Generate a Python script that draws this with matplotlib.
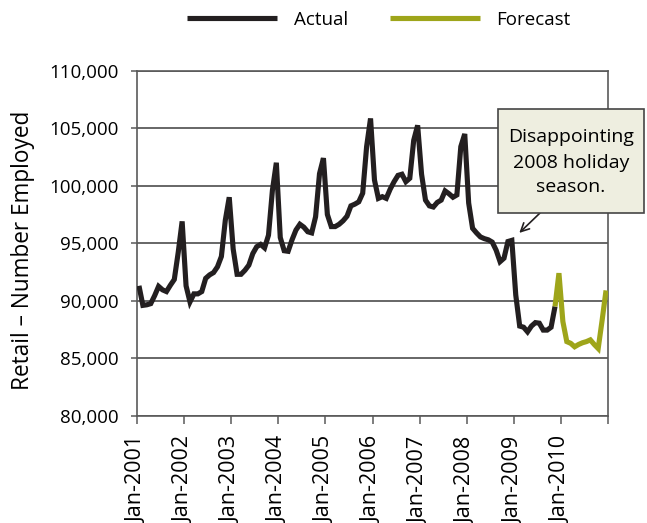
import matplotlib
matplotlib.use("Agg")
import matplotlib.pyplot as plt
from matplotlib.ticker import FuncFormatter, FixedLocator
from matplotlib.patches import Rectangle
import numpy as np

plt.rcParams['font.family'] = ['Open Sans', 'DejaVu Sans']

# Monthly retail employment, Jan-2001 .. Nov-2009 (actual)
actual_values = [
    91300, 89600, 89650, 89750, 90450, 91250, 90950, 90800, 91350, 91850, 94200, 96900,   # 2001
    91300, 89900, 90600, 90600, 90800, 91950, 92250, 92450, 92950, 93850, 97000, 99000,   # 2002
    94500, 92300, 92300, 92650, 93100, 94100, 94700, 94900, 94600, 95700, 99600, 102000,  # 2003
    95500, 94350, 94300, 95300, 96150, 96650, 96400, 96000, 95900, 97300, 101050, 102400, # 2004
    97500, 96450, 96450, 96650, 96950, 97350, 98250, 98400, 98600, 99350, 103400, 105850, # 2005
    100500, 98900, 99050, 98900, 99700, 100350, 100900, 101000, 100350, 100650, 103950, 105250,  # 2006
    101000, 98750, 98250, 98150, 98550, 98750, 99550, 99300, 99000, 99200, 103400, 104500,  # 2007
    98500, 96300, 95900, 95550, 95400, 95300, 95100, 94400, 93400, 93700, 95150, 95250,   # 2008
    90500, 87800, 87700, 87300, 87800, 88100, 88050, 87450, 87450, 87700, 89500,          # 2009 (to Nov)
]
# Forecast, Nov-2009 .. Dec-2010
forecast_values = [89500, 92400, 88200, 86450, 86300, 86000, 86200, 86350, 86450,
                   86600, 86200, 85850, 88300, 90900]
forecast_start = len(actual_values) - 1

tick_labels = ['Jan-2001', 'Jan-2002', 'Jan-2003', 'Jan-2004', 'Jan-2005',
               'Jan-2006', 'Jan-2007', 'Jan-2008', 'Jan-2009', 'Jan-2010', '']
y_ticks = [80000, 85000, 90000, 95000, 100000, 105000, 110000]

actual_x = np.arange(len(actual_values)) + 0.5
forecast_x = np.arange(forecast_start, forecast_start + len(forecast_values)) + 0.5

W, H = 647, 523
fig = plt.figure(figsize=(W / 100, H / 100), dpi=100)
ax = fig.add_axes([137 / W, 1 - 415.8 / H, (608 - 137) / W, (415.8 - 70.7) / H])

black = '#231f20'
green = '#9ea51a'
grid_c = '#5a5a5a'

ax.plot(actual_x, actual_values, color=black, lw=3.7, solid_joinstyle='miter',
        solid_capstyle='butt', label='Actual', zorder=3)
ax.plot(forecast_x, forecast_values, color=green, lw=3.7, solid_joinstyle='miter',
        solid_capstyle='butt', label='Forecast', zorder=4)

ax.set_xlim(0, 120)
ax.set_ylim(80000, 110000)
ax.xaxis.set_major_locator(FixedLocator(np.arange(0, 121, 12)))
ax.set_xticklabels(tick_labels, rotation=90, fontsize=15.5)
ax.set_yticks(y_ticks)
ax.yaxis.set_major_formatter(FuncFormatter(lambda v, p: f'{int(v):,}'))
ax.tick_params(axis='y', labelsize=13.5, length=4, width=1.1, color=grid_c, pad=9.5)
ax.tick_params(axis='x', length=5.8, width=1.1, color=grid_c, pad=9)
ax.grid(axis='y', color=grid_c, lw=1.3)
ax.set_axisbelow(True)
for s in ax.spines.values():
    s.set_color(grid_c)
    s.set_linewidth(1.2)

fig.text(23 / W, 1 - 250 / H, 'Retail \u2013 Number Employed', rotation=90,
         ha='center', va='center', fontsize=16.3)

fig.legend(loc='center', bbox_to_anchor=(379 / W, 1 - 20 / H), ncol=2, frameon=False,
           fontsize=13.5, handlelength=4.8, handletextpad=0.9, columnspacing=2.2)

# Callout box for the 2008 holiday season
bx0, by0, bx1, by1 = 498, 109, 644, 213
fig.patches.append(Rectangle((bx0 / W, 1 - by1 / H), (bx1 - bx0) / W, (by1 - by0) / H,
                             transform=fig.transFigure, fc='#eeeee0', ec='#454545',
                             lw=1.2, zorder=6))
fig.text((bx0 + bx1) / 2 / W, 1 - (by0 + by1 + 3) / 2 / H,
         'Disappointing\n2008 holiday\nseason.', ha='center', va='center',
         fontsize=14, linespacing=1.5, zorder=7)
ax.annotate('', xy=(97.4, 95900), xycoords='data',
            xytext=(540, H - 213), textcoords='figure pixels',
            arrowprops=dict(arrowstyle='->,head_length=0.6,head_width=0.3',
                            color='#231f20', lw=1.2, shrinkA=0, shrinkB=0),
            annotation_clip=False, zorder=6)

fig.savefig('out.png', dpi=100)
